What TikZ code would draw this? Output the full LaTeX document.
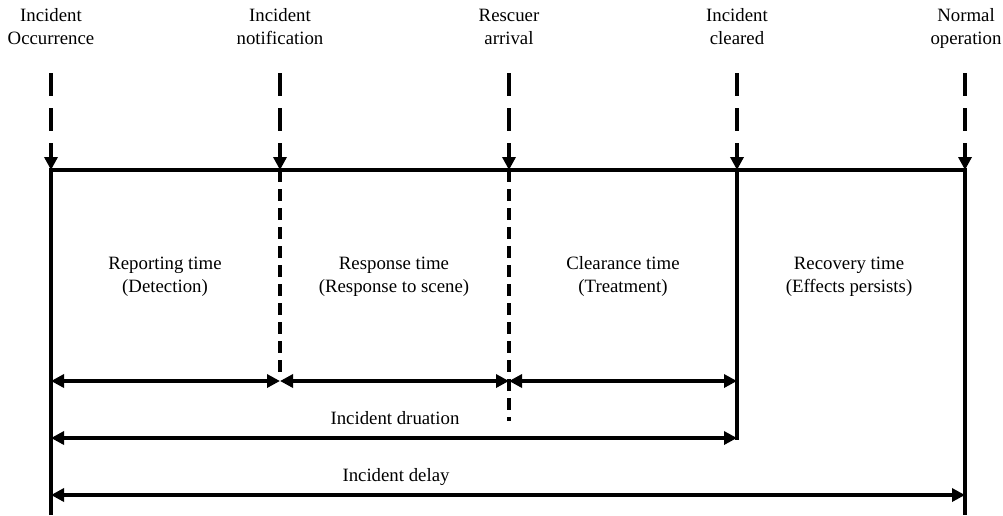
\documentclass[tikz,border=0pt]{standalone}
\usepackage{fontspec}
\setmainfont{Liberation Serif}
\usetikzlibrary{arrows.meta}
\begin{document}
\begin{tikzpicture}[x=1pt,y=-1pt,
  lbl/.style={align=center, inner sep=0pt, anchor=base, font=\fontsize{18.8}{22.8}\selectfont},
  tri/.tip={Triangle[length=13pt,width=13pt]},
  solidline/.style={line width=3.3pt},
  toparrow/.style={line width=3.6pt, dash pattern=on 23pt off 12pt, -tri},
  lowdash/.style={line width=3.3pt, dash pattern=on 12pt off 7pt},
  span/.style={line width=3.3pt, tri-tri}
]
\useasboundingbox (0,0) rectangle (1003,515);

% event points on the timeline
\coordinate (pA) at (51,170);
\coordinate (pB) at (280,170);
\coordinate (pC) at (509,170);
\coordinate (pD) at (737,170);
\coordinate (pE) at (965,170);

% starts of the top dashed arrows
\coordinate (sA) at (51,73);
\coordinate (sB) at (280,73);
\coordinate (sC) at (509,73);
\coordinate (sD) at (737,73);
\coordinate (sE) at (965,73);

% bottom ends of the vertical lines
\coordinate (bA) at (51,515);
\coordinate (bB) at (280,373);
\coordinate (bC) at (509,421);
\coordinate (bD) at (737,440);
\coordinate (bE) at (965,515);

% top labels (base anchor = baseline of last line)
\node[lbl] (lA) at (51,44) {Incident\\Occurrence};
\node[lbl] (lB) at (280,44) {Incident\\notification};
\node[lbl] (lC) at (509,44) {Rescuer\\arrival};
\node[lbl] (lD) at (737,44) {Incident\\cleared};
\node[lbl] (lE) at (966,44) {Normal\\operation};

% top dashed arrows
\draw[toparrow] (sA) -- (pA);
\draw[toparrow] (sB) -- (pB);
\draw[toparrow] (sC) -- (pC);
\draw[toparrow] (sD) -- (pD);
\draw[toparrow] (sE) -- (pE);

% frame
\draw[solidline, line join=miter] (bA) -- (pA) -- (pE) -- (bE);
\draw[solidline] (pD) -- (bD);
\draw[lowdash] (pB) -- (bB);
\draw[lowdash] (pC) -- (bC);

% phase labels
\node[lbl] (tR) at (165,292) {Reporting time\\(Detection)};
\node[lbl] (tS) at (394,292) {Response time\\(Response to scene)};
\node[lbl] (tC) at (623,292) {Clearance time\\(Treatment)};
\node[lbl] (tV) at (849,292) {Recovery time\\(Effects persists)};

% span arrows
\coordinate (r1A) at (51,381);
\coordinate (r1B) at (280,381);
\coordinate (r1C) at (509,381);
\coordinate (r1D) at (737,381);
\coordinate (r2A) at (51,438);
\coordinate (r2D) at (737,438);
\coordinate (r3A) at (51,495);
\coordinate (r3E) at (965,495);

\draw[span] (r1A) -- (r1B);
\draw[span] (r1B) -- (r1C);
\draw[span] (r1C) -- (r1D);
\draw[span] (r2A) -- (r2D);
\draw[span] (r3A) -- (r3E);

\node[lbl] (dur) at (395,424) {Incident druation};
\node[lbl] (del) at (396,481) {Incident delay};
\end{tikzpicture}
\end{document}
